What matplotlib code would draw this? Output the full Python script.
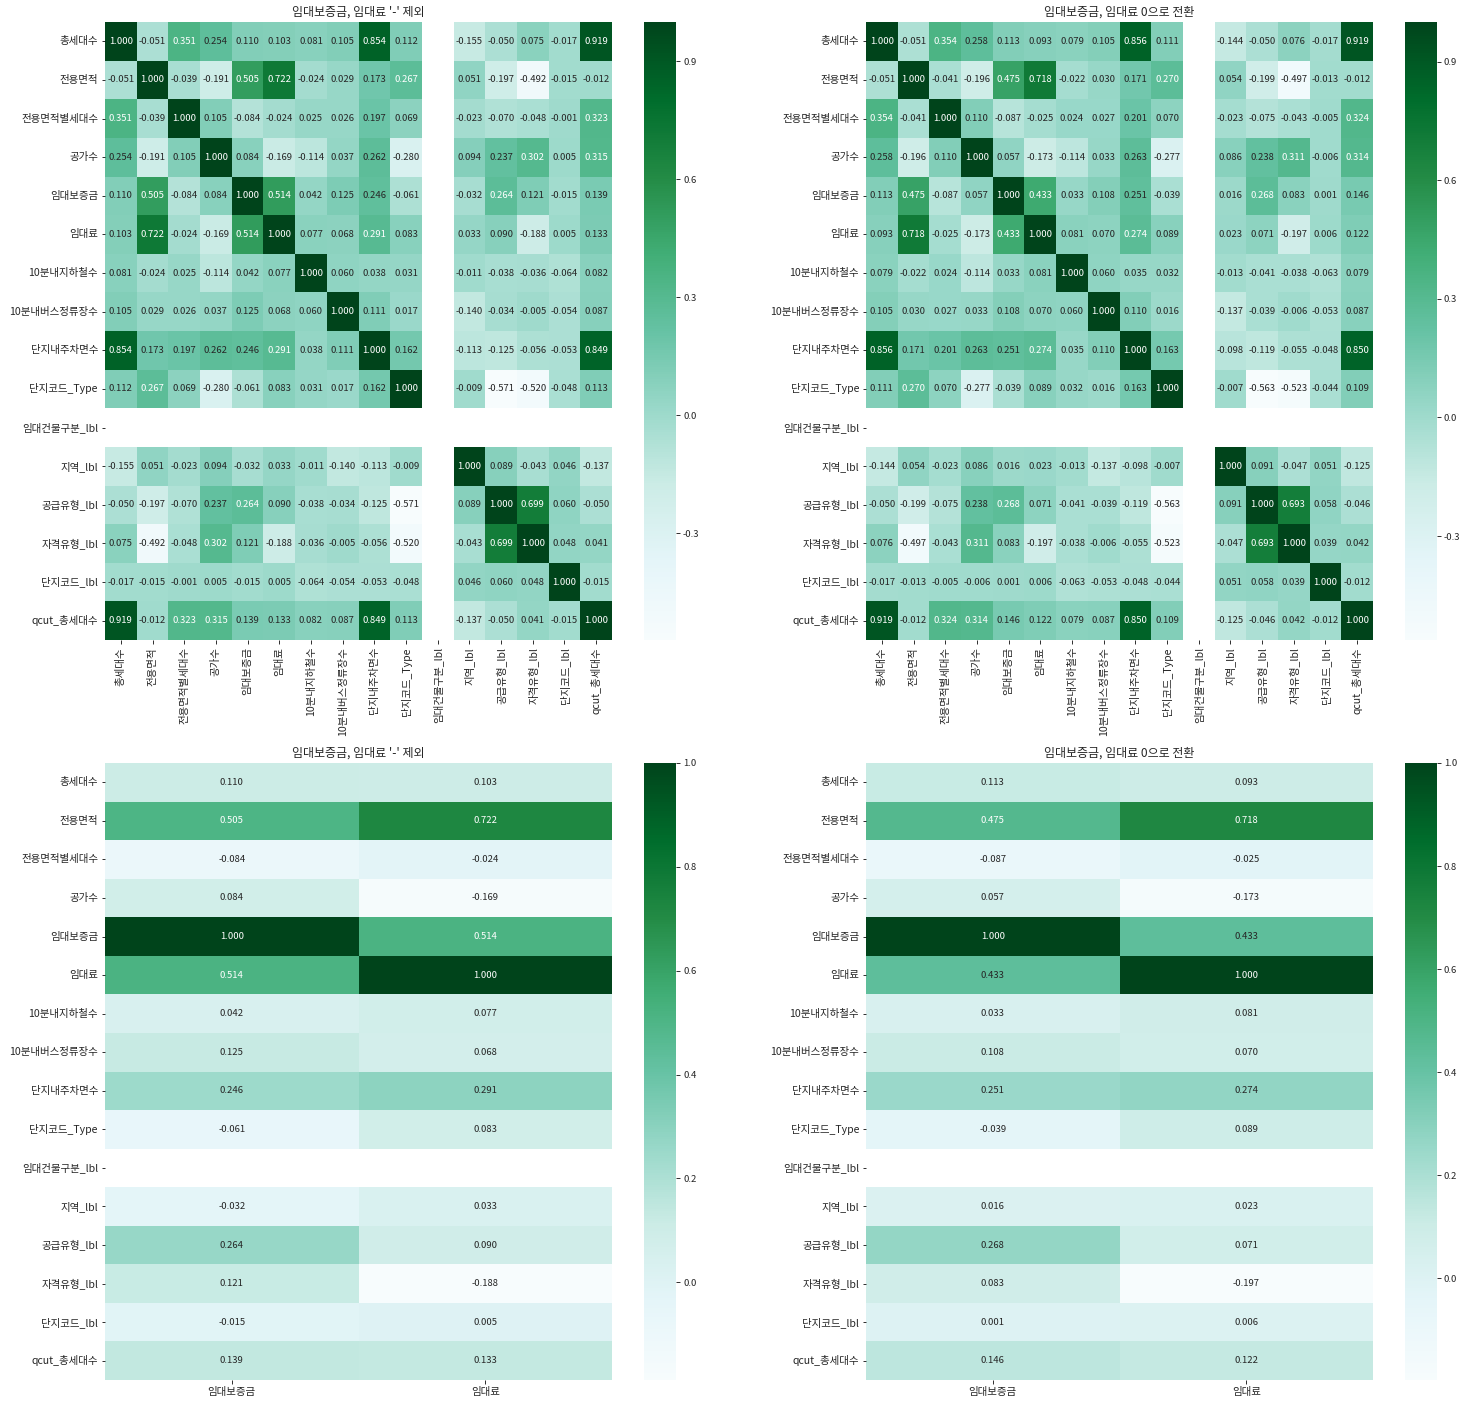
import numpy as np
import pandas as pd
import matplotlib
matplotlib.use('Agg')
import matplotlib.pyplot as plt
import seaborn as sns

plt.rcParams['font.family'] = ['Noto Sans CJK KR', 'DejaVu Sans']
plt.rcParams['axes.unicode_minus'] = False

cols = ['총세대수', '전용면적', '전용면적별세대수', '공가수', '임대보증금', '임대료',
        '10분내지하철수', '10분내버스정류장수', '단지내주차면수', '단지코드_Type',
        '임대건물구분_lbl', '지역_lbl', '공급유형_lbl', '자격유형_lbl', '단지코드_lbl', 'qcut_총세대수']
n = np.nan

# '-' 제외
corr_drop = [
    [1.000, -0.051, 0.351, 0.254, 0.110, 0.103, 0.081, 0.105, 0.854, 0.112, n, -0.155, -0.050, 0.075, -0.017, 0.919],
    [-0.051, 1.000, -0.039, -0.191, 0.505, 0.722, -0.024, 0.029, 0.173, 0.267, n, 0.051, -0.197, -0.492, -0.015, -0.012],
    [0.351, -0.039, 1.000, 0.105, -0.084, -0.024, 0.025, 0.026, 0.197, 0.069, n, -0.023, -0.070, -0.048, -0.001, 0.323],
    [0.254, -0.191, 0.105, 1.000, 0.084, -0.169, -0.114, 0.037, 0.262, -0.280, n, 0.094, 0.237, 0.302, 0.005, 0.315],
    [0.110, 0.505, -0.084, 0.084, 1.000, 0.514, 0.042, 0.125, 0.246, -0.061, n, -0.032, 0.264, 0.121, -0.015, 0.139],
    [0.103, 0.722, -0.024, -0.169, 0.514, 1.000, 0.077, 0.068, 0.291, 0.083, n, 0.033, 0.090, -0.188, 0.005, 0.133],
    [0.081, -0.024, 0.025, -0.114, 0.042, 0.077, 1.000, 0.060, 0.038, 0.031, n, -0.011, -0.038, -0.036, -0.064, 0.082],
    [0.105, 0.029, 0.026, 0.037, 0.125, 0.068, 0.060, 1.000, 0.111, 0.017, n, -0.140, -0.034, -0.005, -0.054, 0.087],
    [0.854, 0.173, 0.197, 0.262, 0.246, 0.291, 0.038, 0.111, 1.000, 0.162, n, -0.113, -0.125, -0.056, -0.053, 0.849],
    [0.112, 0.267, 0.069, -0.280, -0.061, 0.083, 0.031, 0.017, 0.162, 1.000, n, -0.009, -0.571, -0.520, -0.048, 0.113],
    [n] * 16,
    [-0.155, 0.051, -0.023, 0.094, -0.032, 0.033, -0.011, -0.140, -0.113, -0.009, n, 1.000, 0.089, -0.043, 0.046, -0.137],
    [-0.050, -0.197, -0.070, 0.237, 0.264, 0.090, -0.038, -0.034, -0.125, -0.571, n, 0.089, 1.000, 0.699, 0.060, -0.050],
    [0.075, -0.492, -0.048, 0.302, 0.121, -0.188, -0.036, -0.005, -0.056, -0.520, n, -0.043, 0.699, 1.000, 0.048, 0.041],
    [-0.017, -0.015, -0.001, 0.005, -0.015, 0.005, -0.064, -0.054, -0.053, -0.048, n, 0.046, 0.060, 0.048, 1.000, -0.015],
    [0.919, -0.012, 0.323, 0.315, 0.139, 0.133, 0.082, 0.087, 0.849, 0.113, n, -0.137, -0.050, 0.041, -0.015, 1.000],
]

# 0으로 전환
corr_zero = [
    [1.000, -0.051, 0.354, 0.258, 0.113, 0.093, 0.079, 0.105, 0.856, 0.111, n, -0.144, -0.050, 0.076, -0.017, 0.919],
    [-0.051, 1.000, -0.041, -0.196, 0.475, 0.718, -0.022, 0.030, 0.171, 0.270, n, 0.054, -0.199, -0.497, -0.013, -0.012],
    [0.354, -0.041, 1.000, 0.110, -0.087, -0.025, 0.024, 0.027, 0.201, 0.070, n, -0.023, -0.075, -0.043, -0.005, 0.324],
    [0.258, -0.196, 0.110, 1.000, 0.057, -0.173, -0.114, 0.033, 0.263, -0.277, n, 0.086, 0.238, 0.311, -0.006, 0.314],
    [0.113, 0.475, -0.087, 0.057, 1.000, 0.433, 0.033, 0.108, 0.251, -0.039, n, 0.016, 0.268, 0.083, 0.001, 0.146],
    [0.093, 0.718, -0.025, -0.173, 0.433, 1.000, 0.081, 0.070, 0.274, 0.089, n, 0.023, 0.071, -0.197, 0.006, 0.122],
    [0.079, -0.022, 0.024, -0.114, 0.033, 0.081, 1.000, 0.060, 0.035, 0.032, n, -0.013, -0.041, -0.038, -0.063, 0.079],
    [0.105, 0.030, 0.027, 0.033, 0.108, 0.070, 0.060, 1.000, 0.110, 0.016, n, -0.137, -0.039, -0.006, -0.053, 0.087],
    [0.856, 0.171, 0.201, 0.263, 0.251, 0.274, 0.035, 0.110, 1.000, 0.163, n, -0.098, -0.119, -0.055, -0.048, 0.850],
    [0.111, 0.270, 0.070, -0.277, -0.039, 0.089, 0.032, 0.016, 0.163, 1.000, n, -0.007, -0.563, -0.523, -0.044, 0.109],
    [n] * 16,
    [-0.144, 0.054, -0.023, 0.086, 0.016, 0.023, -0.013, -0.137, -0.098, -0.007, n, 1.000, 0.091, -0.047, 0.051, -0.125],
    [-0.050, -0.199, -0.075, 0.238, 0.268, 0.071, -0.041, -0.039, -0.119, -0.563, n, 0.091, 1.000, 0.693, 0.058, -0.046],
    [0.076, -0.497, -0.043, 0.311, 0.083, -0.197, -0.038, -0.006, -0.055, -0.523, n, -0.047, 0.693, 1.000, 0.039, 0.042],
    [-0.017, -0.013, -0.005, -0.006, 0.001, 0.006, -0.063, -0.053, -0.048, -0.044, n, 0.051, 0.058, 0.039, 1.000, -0.012],
    [0.919, -0.012, 0.324, 0.314, 0.146, 0.122, 0.079, 0.087, 0.850, 0.109, n, -0.125, -0.046, 0.042, -0.012, 1.000],
]

full_ticks = [-0.3, 0.0, 0.3, 0.6, 0.9]
part_ticks = [0.0, 0.2, 0.4, 0.6, 0.8, 1.0]

df_drop = pd.DataFrame(corr_drop, index=cols, columns=cols)
df_zero = pd.DataFrame(corr_zero, index=cols, columns=cols)
target = ['임대보증금', '임대료']

W, H = 1467, 1405
fig = plt.figure(figsize=(W / 72, H / 72), dpi=72)


def box(x0, y0, x1, y1):
    # pixel box (top-left origin) -> figure fraction
    return [x0 / W, (H - y1) / H, (x1 - x0) / W, (y1 - y0) / H]


panels = [
    (df_drop, "임대보증금, 임대료 '-' 제외", full_ticks, 105, 22, 640),
    (df_zero, "임대보증금, 임대료 0으로 전환", full_ticks, 866, 22, 640),
    (df_drop[target], "임대보증금, 임대료 '-' 제외", part_ticks, 105, 763, 1380),
    (df_zero[target], "임대보증금, 임대료 0으로 전환", part_ticks, 866, 763, 1380),
]

for data, title, ticks, x0, y0, y1 in panels:
    ax = fig.add_axes(box(x0, y0, x0 + 507, y1))
    cax = fig.add_axes(box(x0 + 539, y0, x0 + 571, y1))
    sns.heatmap(data, annot=True, fmt='.3f', cmap='BuGn', ax=ax, cbar_ax=cax,
                annot_kws={'size': 9.5}, cbar_kws={'ticks': ticks})
    ax.set_title(title, fontsize=12, color='#262626')
    ax.tick_params(labelsize=10.5, labelcolor='#262626')
    cax.tick_params(labelsize=9.5, labelcolor='#262626')

fig.savefig('out.png', dpi=72)
